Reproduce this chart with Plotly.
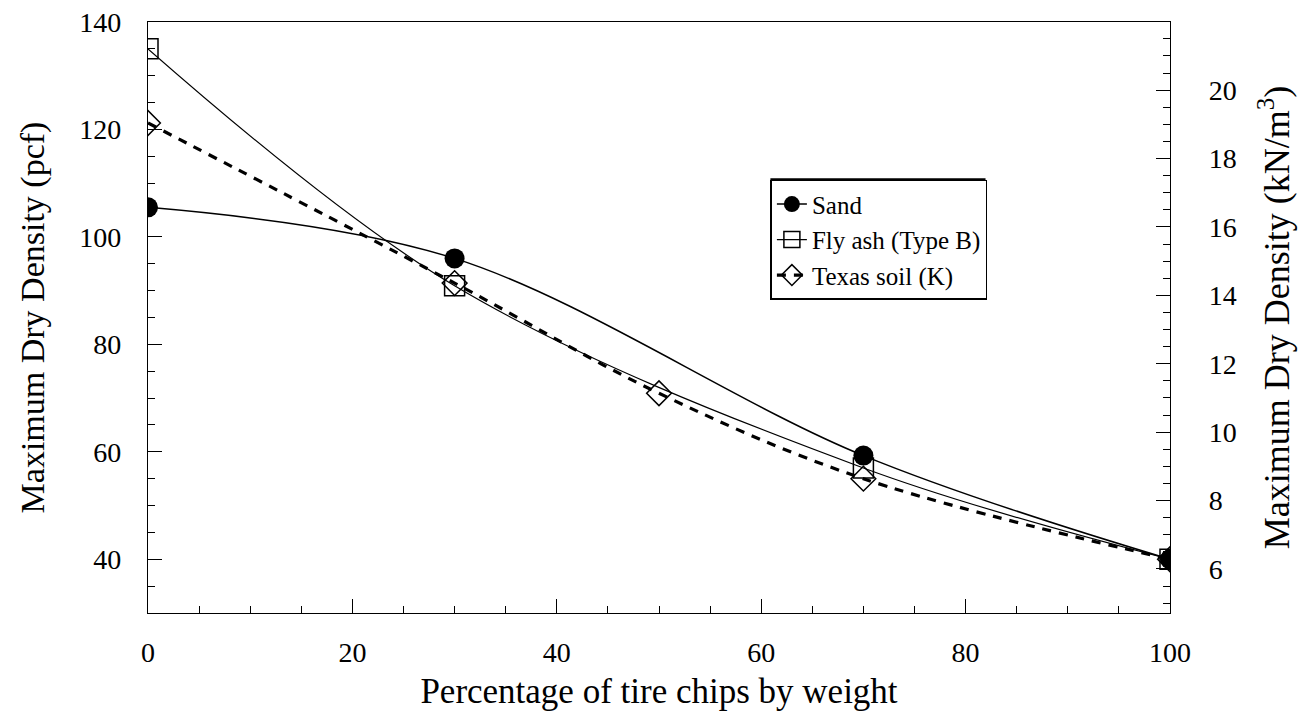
import plotly.graph_objects as go

# ---- data ----
pct_sand = [0, 30, 70, 100]
sand = [105.5, 96.0, 59.3, 40.0]

pct_flyash = [0, 30, 70, 100]
flyash = [135.0, 90.9, 57.0, 40.0]

pct_texas = [0, 30, 50, 70, 100]
texas = [121.2, 91.4, 70.9, 55.0, 40.0]

x_ticks = [0, 20, 40, 60, 80, 100]
y_ticks = [40, 60, 80, 100, 120, 140]
y2_ticks = [6, 8, 10, 12, 14, 16, 18, 20]

PCF_TO_KN = 0.157087
y_range = [30, 140]

FONT = "Liberation Serif"

fig = go.Figure()

fig.add_trace(go.Scatter(
    x=pct_sand, y=sand, name="Sand", mode="lines+markers",
    line=dict(color="black", width=1.5, shape="spline", smoothing=1.0),
    marker=dict(symbol="circle", size=20, color="black"),
))
fig.add_trace(go.Scatter(
    x=pct_flyash, y=flyash, name="Fly ash (Type B)", mode="lines+markers",
    line=dict(color="black", width=1.2, shape="spline", smoothing=1.0),
    marker=dict(symbol="square-open", size=20, color="black", line=dict(width=1.5)),
))
fig.add_trace(go.Scatter(
    x=pct_texas, y=texas, name="Texas soil (K)", mode="lines+markers",
    line=dict(color="black", width=3.2, dash="9px,8px", shape="spline", smoothing=1.0),
    marker=dict(symbol="diamond-open", size=19, color="black", line=dict(width=1.5)),
))
# invisible trace to activate the right axis
fig.add_trace(go.Scatter(
    x=[None], y=[None], yaxis="y2", showlegend=False, hoverinfo="skip",
))

axis_common = dict(
    showgrid=False, zeroline=False, showline=True, linecolor="black", linewidth=1.2,
    ticks="inside", ticklen=14, tickwidth=1.2, tickcolor="black",
    tickfont=dict(family=FONT, size=28, color="black"),
    automargin=False, ticklabeloverflow="allow",
)
minor_common = dict(ticks="inside", ticklen=7, tickcolor="black", tickwidth=1)

LEG_X, LEG_Y = 0.609, 0.733

# the page body adds an 8px offset, margins compensate for it
fig.update_layout(
    width=1306, height=717,
    paper_bgcolor="white", plot_bgcolor="white",
    margin=dict(l=140, r=144, t=14, b=112),
    font=dict(family=FONT, color="black"),
    xaxis=dict(
        range=[0, 100], tickvals=x_ticks, mirror=True,
        minor=dict(dtick=5, **minor_common),
        ticklabelstandoff=14,
        title=dict(text="Percentage of tire chips by weight",
                   font=dict(family=FONT, size=35), standoff=11),
        **axis_common,
    ),
    yaxis=dict(
        range=y_range, tickvals=y_ticks,
        minor=dict(dtick=5, **minor_common),
        ticklabelstandoff=20,
        title=dict(text="Maximum Dry Density (pcf)",
                   font=dict(family=FONT, size=34), standoff=24),
        **axis_common,
    ),
    yaxis2=dict(
        overlaying="y", side="right",
        range=[y_range[0] * PCF_TO_KN, y_range[1] * PCF_TO_KN], tickvals=y2_ticks,
        minor=dict(dtick=0.5, **minor_common),
        ticklabelstandoff=32,
        title=dict(text="Maximum Dry Density (kN/m<sup>3</sup>)",
                   font=dict(family=FONT, size=36), standoff=28),
        **axis_common,
    ),
    legend=dict(
        x=LEG_X, y=LEG_Y, xanchor="left", yanchor="top",
        bgcolor="white", bordercolor="black", borderwidth=1.5,
        font=dict(family=FONT, size=25, color="black"),
        tracegroupgap=0,
    ),
    showlegend=True,
)

# heavier top edge of the legend frame, as in the scanned original
fig.add_shape(type="line", xref="paper", yref="paper",
              x0=LEG_X, x1=0.8195, y0=LEG_Y, y1=LEG_Y,
              line=dict(color="black", width=3), layer="above")

fig.write_html("out.html")
